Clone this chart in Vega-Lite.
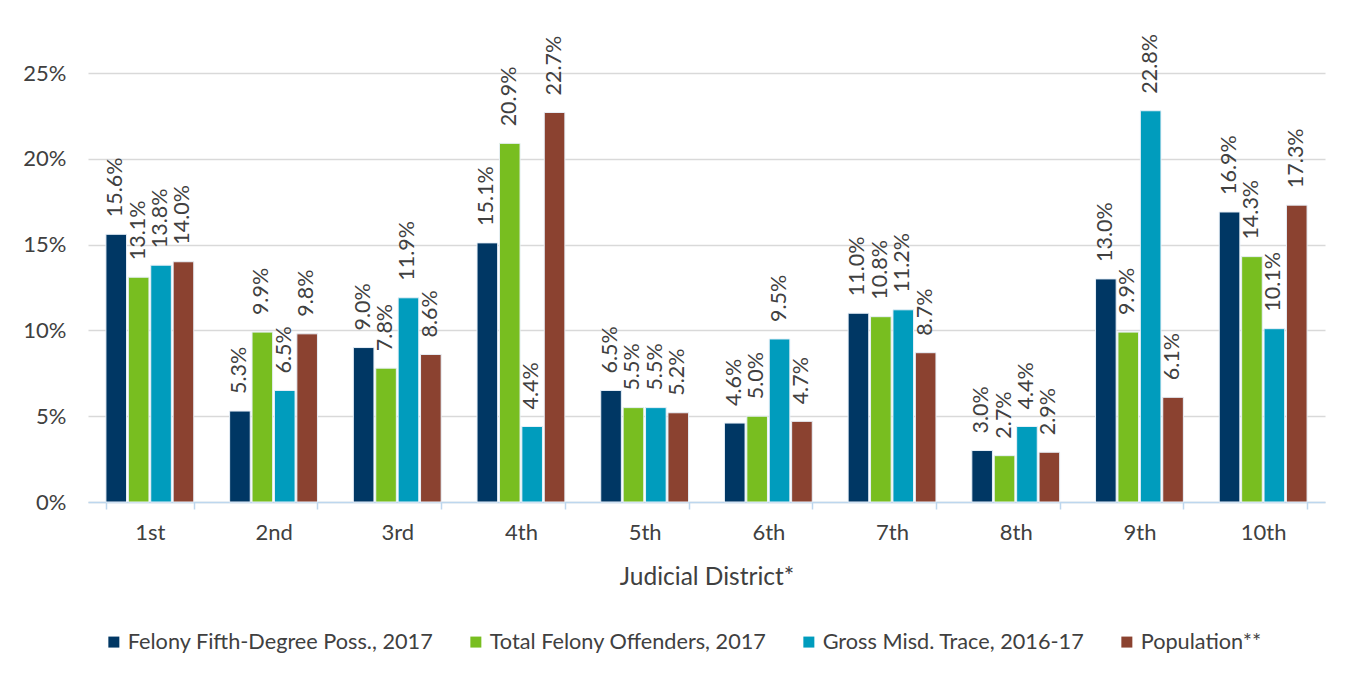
{
  "$schema": "https://vega.github.io/schema/vega-lite/v6.json",
  "width": 1237,
  "height": 429,
  "autosize": {"type": "none"},
  "padding": {"left": 88, "top": 73, "right": 28, "bottom": 175},
  "background": "white",
  "config": {
    "font": "Lato",
    "view": {"stroke": null},
    "axis": {"labelColor": "#404040", "titleColor": "#404040", "labelFont": "Lato", "titleFont": "Lato"},
    "legend": {"labelFont": "Lato"}
  },
  "data": {
    "values": [
      {"district": "1st", "series": "Felony Fifth-Degree Poss., 2017", "value": 0.156},
      {"district": "1st", "series": "Total Felony Offenders, 2017", "value": 0.131},
      {"district": "1st", "series": "Gross Misd. Trace, 2016-17", "value": 0.138},
      {"district": "1st", "series": "Population**", "value": 0.140},
      {"district": "2nd", "series": "Felony Fifth-Degree Poss., 2017", "value": 0.053},
      {"district": "2nd", "series": "Total Felony Offenders, 2017", "value": 0.099},
      {"district": "2nd", "series": "Gross Misd. Trace, 2016-17", "value": 0.065},
      {"district": "2nd", "series": "Population**", "value": 0.098},
      {"district": "3rd", "series": "Felony Fifth-Degree Poss., 2017", "value": 0.090},
      {"district": "3rd", "series": "Total Felony Offenders, 2017", "value": 0.078},
      {"district": "3rd", "series": "Gross Misd. Trace, 2016-17", "value": 0.119},
      {"district": "3rd", "series": "Population**", "value": 0.086},
      {"district": "4th", "series": "Felony Fifth-Degree Poss., 2017", "value": 0.151},
      {"district": "4th", "series": "Total Felony Offenders, 2017", "value": 0.209},
      {"district": "4th", "series": "Gross Misd. Trace, 2016-17", "value": 0.044},
      {"district": "4th", "series": "Population**", "value": 0.227},
      {"district": "5th", "series": "Felony Fifth-Degree Poss., 2017", "value": 0.065},
      {"district": "5th", "series": "Total Felony Offenders, 2017", "value": 0.055},
      {"district": "5th", "series": "Gross Misd. Trace, 2016-17", "value": 0.055},
      {"district": "5th", "series": "Population**", "value": 0.052},
      {"district": "6th", "series": "Felony Fifth-Degree Poss., 2017", "value": 0.046},
      {"district": "6th", "series": "Total Felony Offenders, 2017", "value": 0.050},
      {"district": "6th", "series": "Gross Misd. Trace, 2016-17", "value": 0.095},
      {"district": "6th", "series": "Population**", "value": 0.047},
      {"district": "7th", "series": "Felony Fifth-Degree Poss., 2017", "value": 0.110},
      {"district": "7th", "series": "Total Felony Offenders, 2017", "value": 0.108},
      {"district": "7th", "series": "Gross Misd. Trace, 2016-17", "value": 0.112},
      {"district": "7th", "series": "Population**", "value": 0.087},
      {"district": "8th", "series": "Felony Fifth-Degree Poss., 2017", "value": 0.030},
      {"district": "8th", "series": "Total Felony Offenders, 2017", "value": 0.027},
      {"district": "8th", "series": "Gross Misd. Trace, 2016-17", "value": 0.044},
      {"district": "8th", "series": "Population**", "value": 0.029},
      {"district": "9th", "series": "Felony Fifth-Degree Poss., 2017", "value": 0.130},
      {"district": "9th", "series": "Total Felony Offenders, 2017", "value": 0.099},
      {"district": "9th", "series": "Gross Misd. Trace, 2016-17", "value": 0.228},
      {"district": "9th", "series": "Population**", "value": 0.061},
      {"district": "10th", "series": "Felony Fifth-Degree Poss., 2017", "value": 0.169},
      {"district": "10th", "series": "Total Felony Offenders, 2017", "value": 0.143},
      {"district": "10th", "series": "Gross Misd. Trace, 2016-17", "value": 0.101},
      {"district": "10th", "series": "Population**", "value": 0.173}
    ]
  },
  "encoding": {
    "x": {
      "field": "district", "type": "nominal", "sort": null,
      "scale": {"paddingInner": 0.29, "paddingOuter": 0.145},
      "axis": {
        "title": "Judicial District*", "titleFontSize": 24.5, "titleFontWeight": "normal", "titlePadding": 22,
        "labelAngle": 0, "labelFontSize": 22, "labelPadding": 13,
        "domainColor": "#bdd7ee", "domainWidth": 1.5, "tickColor": "#bdd7ee", "tickWidth": 1.5, "tickSize": 7, "tickBand": "extent"
      }
    },
    "xOffset": {
      "field": "series", "type": "nominal", "sort": null,
      "scale": {"paddingInner": 0.08}
    },
    "y": {
      "field": "value", "type": "quantitative",
      "scale": {"domain": [0, 0.25], "nice": false},
      "axis": {
        "title": null, "values": [0, 0.05, 0.1, 0.15, 0.2, 0.25], "format": ".0%",
        "labelFontSize": 22, "labelPadding": 22, "ticks": false, "domain": false,
        "gridColor": "#d9d9d9", "gridWidth": 1.5
      }
    },
    "color": {
      "field": "series", "type": "nominal", "sort": null,
      "scale": {
        "domain": ["Felony Fifth-Degree Poss., 2017", "Total Felony Offenders, 2017", "Gross Misd. Trace, 2016-17", "Population**"],
        "range": ["#003764", "#78be20", "#009cbd", "#8b4230"]
      },
      "legend": {
        "title": null, "orient": "none", "legendX": 15, "legendY": 558, "direction": "horizontal",
        "labelFontSize": 21.7, "labelColor": "#404040", "symbolType": "square", "symbolSize": 121,
        "symbolStrokeWidth": 0, "columnPadding": 31, "labelLimit": 400, "labelOffset": 3
      }
    }
  },
  "layer": [
    {"mark": {"type": "bar", "stroke": "#e8f0f8", "strokeWidth": 1}},
    {
      "mark": {"type": "text", "angle": -90, "align": "left", "baseline": "middle", "dx": 17, "fontSize": 21.5, "color": "#404040"},
      "encoding": {"text": {"field": "value", "type": "quantitative", "format": ".1%"}, "color": {"value": "#404040"}}
    }
  ]
}
